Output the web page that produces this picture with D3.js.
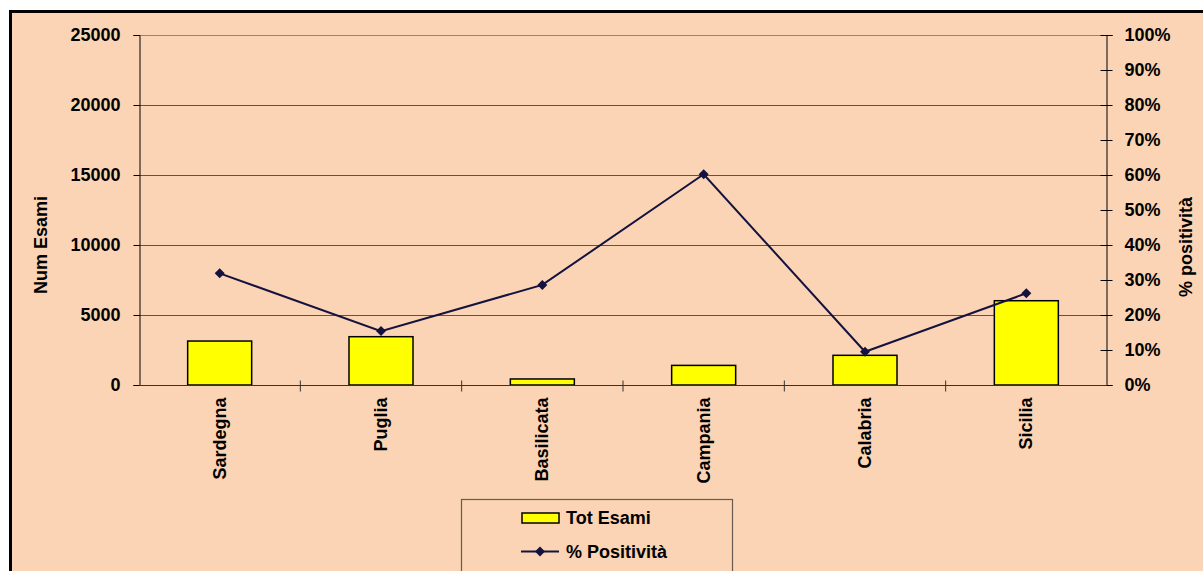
<!DOCTYPE html>
<html><head><meta charset="utf-8">
<script src="https://cdn.jsdelivr.net/npm/d3@7"></script>
<style>html,body{margin:0;padding:0;background:#fff;overflow:hidden}</style>
</head><body>
<svg id="c" width="1203" height="571"></svg>
<script>
const categories = ["Sardegna","Puglia","Basilicata","Campania","Calabria","Sicilia"];
const totEsami = [3140, 3450, 430, 1400, 2120, 6020];
const positivita = [0.319, 0.154, 0.286, 0.602, 0.095, 0.262];
const leftTicks = [0, 5000, 10000, 15000, 20000, 25000];
const rightTicks = [0,0.1,0.2,0.3,0.4,0.5,0.6,0.7,0.8,0.9,1.0];
const seriesNames = ["Tot Esami", "% Positività"];
const axisTitles = ["Num Esami", "% positività"];

const svg = d3.select("#c");
const font = "'Liberation Sans', Arial, sans-serif";
const bg = "#FAD4B4";

svg.append("rect").attr("x",10.5).attr("y",11.5).attr("width",1240).attr("height",600)
  .attr("fill",bg).attr("stroke","#000").attr("stroke-width",3);

const L=139, R=1107, T=35, B=385;
const xc = d3.scaleBand().domain(categories).range([L,R]);
const y = d3.scaleLinear().domain([0,25000]).range([B,T]);
const y2 = d3.scaleLinear().domain([0,1]).range([B,T]);
const cx = d => xc(d)+xc.bandwidth()/2;

// gridlines
svg.append("g").selectAll("line").data(leftTicks.slice(1)).join("line")
  .attr("x1",L).attr("x2",R).attr("y1",d=>Math.round(y(d))+0.5).attr("y2",d=>Math.round(y(d))+0.5)
  .attr("stroke",d=>d===25000?"#888":"#555").attr("stroke-width",1);

// bars
svg.append("g").selectAll("rect").data(categories).join("rect")
  .attr("x",d=>cx(d)-32).attr("width",64)
  .attr("y",(d,i)=>y(totEsami[i])).attr("height",(d,i)=>B-y(totEsami[i]))
  .attr("fill","#FFFF00").attr("stroke","#000").attr("stroke-width",1.5);

// left axis
const gl = svg.append("g").attr("transform",`translate(${L+0.5},0)`)
  .call(d3.axisLeft(y).tickValues(leftTicks).tickSize(6).tickPadding(13).tickFormat(d3.format("d")));
gl.select(".domain").attr("stroke","#000");
gl.selectAll(".tick line").attr("stroke","#000");
gl.selectAll("text").attr("font-family",font).attr("font-weight","bold").attr("font-size",18).attr("fill","#000");

// right axis
const gr = svg.append("g").attr("transform",`translate(${R-0.5},0)`)
  .call(d3.axisRight(y2).tickValues(rightTicks).tickSize(6).tickPadding(12).tickFormat(d3.format(".0%")));
gr.select(".domain").attr("stroke","#000");
gr.selectAll(".tick line").attr("stroke","#000").attr("x1",-6);
gr.selectAll("text").attr("font-family",font).attr("font-weight","bold").attr("font-size",18).attr("fill","#000");

// bottom axis
const gb = svg.append("g").attr("transform",`translate(0,${B+0.5})`);
gb.append("line").attr("x1",L).attr("x2",R).attr("stroke","#333").attr("stroke-width",1);
gb.selectAll("line.t").data(categories.slice(1)).join("line").attr("class","t")
  .attr("x1",d=>xc(d)).attr("x2",d=>xc(d)).attr("y1",-5).attr("y2",6).attr("stroke","#333");
gb.selectAll("text").data(categories).join("text")
  .attr("transform",d=>`translate(${cx(d)+6},12) rotate(-90)`)
  .attr("text-anchor","end").attr("font-family",font).attr("font-weight","bold").attr("font-size",18)
  .text(d=>d);

// line
const lineColor = "#14123F";
const line = d3.line().x((d,i)=>cx(categories[i])).y(d=>y2(d));
svg.append("path").datum(positivita).attr("d",line).attr("fill","none")
  .attr("stroke",lineColor).attr("stroke-width",2);
svg.append("g").selectAll("path").data(positivita).join("path")
  .attr("d",d3.symbol().type(d3.symbolSquare).size(50))
  .attr("transform",(d,i)=>`translate(${cx(categories[i])},${y2(d)}) rotate(45)`)
  .attr("fill",lineColor);

// axis titles
svg.append("text").attr("transform","translate(47,245) rotate(-90)").attr("text-anchor","middle")
  .attr("font-family",font).attr("font-weight","bold").attr("font-size",18).text(axisTitles[0]);
svg.append("text").attr("transform","translate(1192,247) rotate(-90)").attr("text-anchor","middle")
  .attr("font-family",font).attr("font-weight","bold").attr("font-size",18).text(axisTitles[1]);

// legend
const lg = svg.append("g");
lg.append("rect").attr("x",461.5).attr("y",499.5).attr("width",271).attr("height",100)
  .attr("fill",bg).attr("stroke","#6b5a50").attr("stroke-width",1.2);
lg.append("rect").attr("x",522).attr("y",513).attr("width",37).attr("height",10)
  .attr("fill","#FFFF00").attr("stroke","#000").attr("stroke-width",1.5);
lg.append("text").attr("x",566).attr("y",524).attr("font-family",font).attr("font-weight","bold").attr("font-size",18).text(seriesNames[0]);
lg.append("line").attr("x1",521).attr("x2",559).attr("y1",551.5).attr("y2",551.5).attr("stroke",lineColor).attr("stroke-width",2);
lg.append("path").attr("d",d3.symbol().type(d3.symbolSquare).size(50)).attr("transform","translate(540,551.5) rotate(45)").attr("fill",lineColor);
lg.append("text").attr("x",566).attr("y",558).attr("font-family",font).attr("font-weight","bold").attr("font-size",18).text(seriesNames[1]);
</script>
</body></html>
